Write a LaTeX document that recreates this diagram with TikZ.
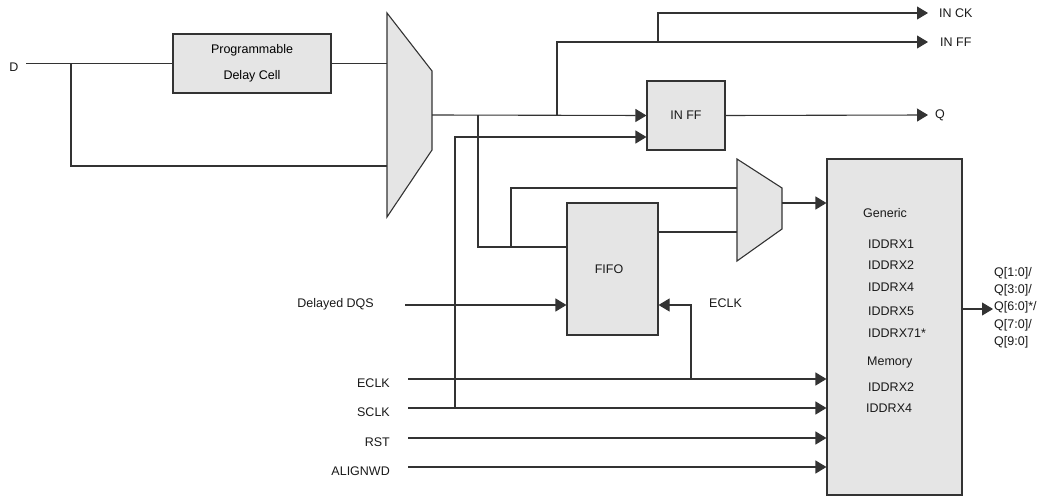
\documentclass[tikz,border=0pt]{standalone}
\usepackage{fontspec}
\setmainfont{Liberation Sans}
\usetikzlibrary{arrows.meta}

\begin{document}
\begin{tikzpicture}[x=1pt, y=-1pt,
    wire/.style={draw=black!80, line width=1.1pt},
    sig/.style={wire, -{Triangle[length=11pt, width=13pt]}},
    block/.style={draw=black!80, line width=1.1pt, fill=black!10, inner sep=0pt},
    lbl/.style={font=\fontsize{12.5}{14}\selectfont, inner sep=0pt, text=black!90}]
    \useasboundingbox (0,0) rectangle (1059,497);

    % Input D and delay cell
    \node[lbl] (dlab) at (14,67) {D};
    \coordinate (dIn) at (26,63.5);
    \coordinate (jD) at (71,63.5);
    \node[block, minimum width=158pt, minimum height=59pt, align=center,
          font=\fontsize{12.5}{26}\selectfont] (dly) at (252,63.5) {Programmable\\Delay Cell};

    % Input mux
    \fill[black!10, draw=black!80, line width=1.1pt] (387,13) -- (432,71) -- (432,150) -- (387,217) -- cycle;
    \coordinate (m1a) at (387,63.5);
    \coordinate (m1b) at (387,166);
    \coordinate (m1out) at (432,115);

    % Blocks
    \node[block, minimum width=78pt, minimum height=69pt] (ff) at (686,115.5) {};
    \node[lbl] (fflab) at (686,115.5) {IN FF};
    \node[block, minimum width=91pt, minimum height=132pt] (fifo) at (612.5,269) {};
    \node[lbl] (fifolab) at (609,269) {FIFO};
    \node[block, minimum width=135pt, minimum height=336pt] (iddr) at (894.5,327) {};

    % Small mux
    \fill[black!10, draw=black!80, line width=1.1pt] (737,159) -- (782,188) -- (782,229) -- (737,261) -- cycle;
    \coordinate (sm1) at (737,188);
    \coordinate (sm2) at (737,232);
    \coordinate (smOut) at (782,203);

    % Wires from D to the register
    \draw[wire] (dIn) -- (dly.west);
    \draw[wire] (jD) |- (m1b);
    \draw[wire] (dly.east) -- (m1a);
    \draw[sig] (m1out) -- (ff.west);
    \coordinate (j1) at (478,115);
    \coordinate (j2) at (511,247);
    \coordinate (j3) at (557,115);
    \coordinate (j4) at (658,42);
    \draw[wire] (j1) |- (fifo.west |- j2);
    \draw[wire] (j2) |- (sm1);
    \draw[wire] (fifo.east |- sm2) -- (sm2);
    \draw[sig] (smOut) -- (iddr.west |- smOut);

    % Outputs at the top
    \coordinate (outCK) at (928,13);
    \coordinate (outFF) at (928,42);
    \coordinate (outQ) at (928,115);
    \draw[sig] (j3) |- (outFF);
    \draw[sig] (j4) |- (outCK);
    \draw[sig] (ff.east) -- (outQ);
    \node[lbl, anchor=west] (ck) at (939,13) {IN CK};
    \node[lbl, anchor=west] (inff) at (940,42) {IN FF};
    \node[lbl, anchor=west] (q) at (935,115) {Q};

    % Delayed DQS
    \node[lbl, anchor=east] (dqs) at (374,304) {Delayed DQS};
    \coordinate (dqsIn) at (405,305);
    \draw[sig] (dqsIn) -- (fifo.west |- dqsIn);

    % Clock, reset and align inputs
    \foreach \n/\y in {ECLK/379, SCLK/408, RST/438, ALIGNWD/467} {
        \node[lbl, anchor=east] (lab-\n) at (390,\y+4) {\n};
        \coordinate (s-\n) at (408,\y);
        \draw[sig] (s-\n) -- (iddr.west |- s-\n);
    }
    \coordinate (j5) at (455,408);
    \coordinate (j6) at (691,379);
    \draw[sig] (j5) |- (ff.west |- 0,137);
    \draw[sig] (j6) |- (fifo.east |- dqsIn);
    \node[lbl, anchor=west] (eclk) at (709,303) {ECLK};

    % Modes inside the IDDR block
    \foreach \t/\x/\y [count=\i] in {Generic/863/213, IDDRX1/868/244, IDDRX2/868/265,
        IDDRX4/868/287, IDDRX5/868/311, IDDRX71*/868/333, Memory/867/362,
        IDDRX2/868/387, IDDRX4/866/408} {
        \node[lbl, anchor=west] (mode\i) at (\x,\y) {\t};
    }

    % Parallel output
    \coordinate (qOut) at (993,309);
    \draw[sig] (iddr.east |- qOut) -- (qOut);
    \node[lbl, anchor=west] (qw1) at (994,273.5) {Q[1:0]/};
    \node[lbl, anchor=west] (qw2) at (994,290) {Q[3:0]/};
    \node[lbl, anchor=west] (qw3) at (994,307) {Q[6:0]*/};
    \node[lbl, anchor=west] (qw4) at (994,325) {Q[7:0]/};
    \node[lbl, anchor=west] (qw5) at (994,342) {Q[9:0]};
\end{tikzpicture}
\end{document}
